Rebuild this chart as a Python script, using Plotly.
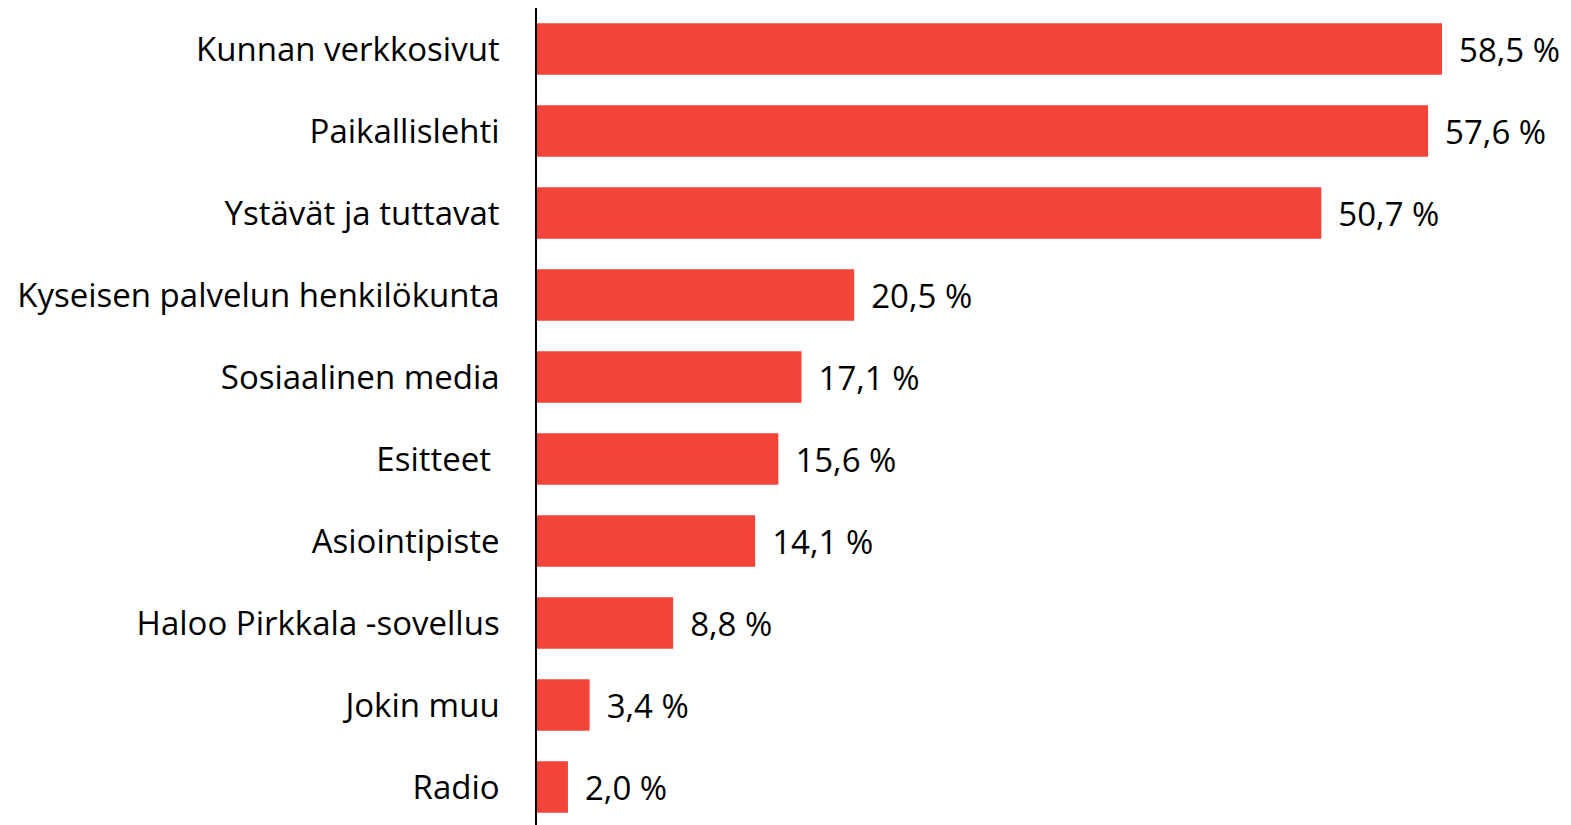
import plotly.graph_objects as go

categories = [
    "Kunnan verkkosivut",
    "Paikallislehti",
    "Ystävät ja tuttavat",
    "Kyseisen palvelun henkilökunta",
    "Sosiaalinen media",
    "Esitteet\u00a0",
    "Asiointipiste",
    "Haloo Pirkkala -sovellus",
    "Jokin muu",
    "Radio",
]
values = [58.5, 57.6, 50.7, 20.5, 17.1, 15.6, 14.1, 8.8, 3.4, 2.0]

labels = ["\u00a0\u2009" + f"{v:.1f}".replace(".", ",") + "\u00a0%" for v in values]

FONT = "Open Sans"

fig = go.Figure(
    go.Bar(
        x=values,
        y=categories,
        orientation="h",
        marker=dict(color="#F24438", line=dict(width=0)),
        width=0.63,
        text=labels,
        textposition="outside",
        textfont=dict(size=33, color="#000000", family=FONT),
        cliponaxis=False,
        hoverinfo="skip",
    )
)

fig.update_layout(
    width=1563,
    height=817,
    margin=dict(l=529, r=0, t=0, b=0, autoexpand=False),
    paper_bgcolor="white",
    plot_bgcolor="white",
    showlegend=False,
    font=dict(family=FONT, size=33, color="#000000"),
)
fig.update_xaxes(range=[0, 66.84], visible=False, showgrid=False, zeroline=False, automargin=False)
fig.update_yaxes(
    categoryorder="array",
    categoryarray=categories[::-1],
    autorange=False,
    range=[-0.463, 9.5],
    showline=True,
    linecolor="#000000",
    linewidth=1.5,
    ticks="",
    showgrid=False,
    automargin=False,
    ticklabelstandoff=29,
    tickfont=dict(size=33, family=FONT, color="#000000"),
)

fig.write_html("out.html")
